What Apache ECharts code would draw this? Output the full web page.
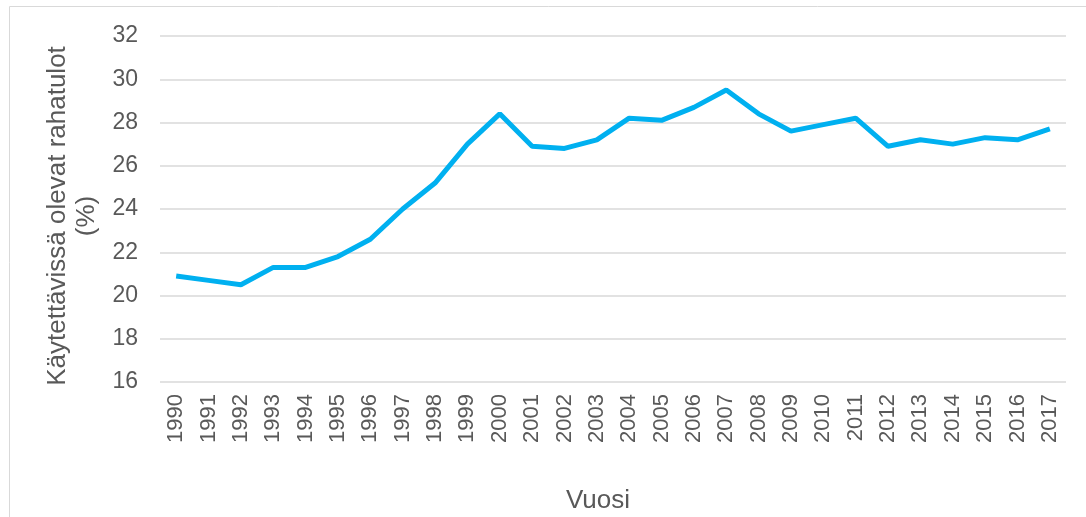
<!DOCTYPE html>
<html>
<head>
<meta charset="utf-8">
<script src="https://cdn.jsdelivr.net/npm/echarts@6/dist/echarts.min.js"></script>
<style>
  html, body { margin: 0; padding: 0; background: #fff; }
  #chart { width: 1086px; height: 517px; }
</style>
</head>
<body>
<div id="chart"></div>
<script>
const years = ['1990', '1991', '1992', '1993', '1994', '1995', '1996', '1997', '1998', '1999',
  '2000', '2001', '2002', '2003', '2004', '2005', '2006', '2007', '2008', '2009',
  '2010', '2011', '2012', '2013', '2014', '2015', '2016', '2017'];
const values = [20.9, 20.7, 20.5, 21.3, 21.3, 21.8, 22.6, 24.0, 25.2, 27.0,
  28.4, 26.9, 26.8, 27.2, 28.2, 28.1, 28.7, 29.5, 28.4, 27.6,
  27.9, 28.2, 26.9, 27.2, 27.0, 27.3, 27.2, 27.7];

const textColor = '#595959';
const font = 'Liberation Sans, Arial, sans-serif';

const chart = echarts.init(document.getElementById('chart'));

chart.setOption({
  animation: false,
  textStyle: { fontFamily: font },
  graphic: [{
    type: 'rect',
    shape: { x: 9.5, y: 6.5, width: 1100, height: 530 },
    style: { fill: 'none', stroke: '#d9d9d9', lineWidth: 1 },
    silent: true
  }],
  grid: {
    left: 160,
    right: 20,
    top: 36,
    bottom: 135,
    outerBoundsMode: 'none'
  },
  xAxis: {
    type: 'category',
    data: years,
    boundaryGap: true,
    name: 'Vuosi',
    nameLocation: 'middle',
    nameGap: 106,
    nameTextStyle: { color: textColor, fontSize: 26, fontFamily: font, padding: [0, 30, 0, 0] },
    axisLine: { show: false },
    axisTick: { show: false },
    axisLabel: {
      rotate: 90,
      color: textColor,
      fontSize: 22,
      fontFamily: font,
      margin: 12,
      interval: 0
    }
  },
  yAxis: {
    type: 'value',
    min: 16,
    max: 32,
    interval: 2,
    name: 'Käytettävissä olevat rahatulot\n(%)',
    nameLocation: 'middle',
    nameRotate: 90,
    nameGap: 54,
    nameTextStyle: { color: textColor, fontSize: 26, fontFamily: font, lineHeight: 29, padding: [0, 14, 0, 0] },
    axisLine: { show: false },
    axisTick: { show: false },
    axisLabel: {
      color: textColor,
      fontSize: 23,
      fontFamily: font,
      margin: 22
    },
    splitLine: { lineStyle: { color: '#d9d9d9', width: 1.5 } }
  },
  series: [{
    type: 'line',
    data: values,
    symbol: 'none',
    lineStyle: { color: '#00b0f0', width: 5 },
    itemStyle: { color: '#00b0f0' }
  }]
});
</script>
</body>
</html>
